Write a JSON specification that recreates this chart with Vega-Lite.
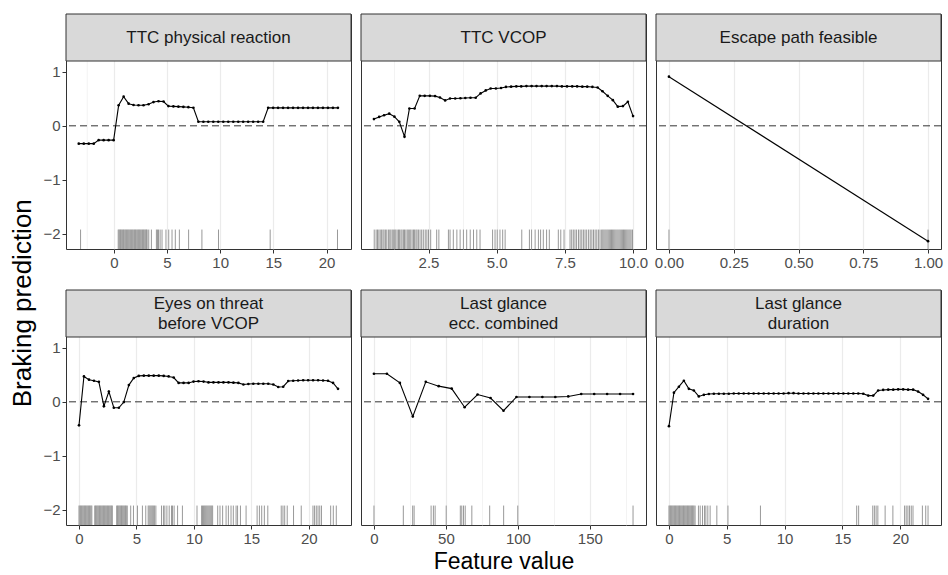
{
  "$schema": "https://vega.github.io/schema/vega-lite/v6.json",
  "background": "white",
  "padding": {"left": 10, "top": 13, "right": 4, "bottom": 0},
  "title": {"text": "Braking prediction", "orient": "left", "anchor": "middle", "fontSize": 26, "fontWeight": "normal", "font": "Liberation Sans", "color": "#000000", "offset": 6, "dx": -10},
  "datasets": {
    "strip": [
      {"p": 1, "label": "TTC physical reaction"},
      {"p": 2, "label": "TTC VCOP"},
      {"p": 3, "label": "Escape path feasible"},
      {"p": 4, "label": "Eyes on threat\nbefore VCOP"},
      {"p": 5, "label": "Last glance\necc. combined"},
      {"p": 6, "label": "Last glance\nduration"}
    ],
    "pd": [
      {"p":1,"x":-3.30,"y":-0.33},{"p":1,"x":-2.83,"y":-0.33},{"p":1,"x":-2.36,"y":-0.33},{"p":1,"x":-1.89,"y":-0.33},
      {"p":1,"x":-1.43,"y":-0.265},{"p":1,"x":-0.96,"y":-0.265},{"p":1,"x":-0.49,"y":-0.265},{"p":1,"x":-0.02,"y":-0.265},
      {"p":1,"x":0.45,"y":0.38},{"p":1,"x":0.92,"y":0.54},{"p":1,"x":1.39,"y":0.41},{"p":1,"x":1.85,"y":0.385},
      {"p":1,"x":2.32,"y":0.38},{"p":1,"x":2.79,"y":0.38},{"p":1,"x":3.26,"y":0.40},{"p":1,"x":3.73,"y":0.44},
      {"p":1,"x":4.20,"y":0.455},{"p":1,"x":4.67,"y":0.45},{"p":1,"x":5.13,"y":0.365},{"p":1,"x":5.60,"y":0.36},
      {"p":1,"x":6.07,"y":0.355},{"p":1,"x":6.54,"y":0.35},{"p":1,"x":7.01,"y":0.345},{"p":1,"x":7.48,"y":0.335},
      {"p":1,"x":7.95,"y":0.075},{"p":1,"x":8.42,"y":0.075},{"p":1,"x":8.88,"y":0.075},{"p":1,"x":9.35,"y":0.075},
      {"p":1,"x":9.82,"y":0.075},{"p":1,"x":10.29,"y":0.075},{"p":1,"x":10.76,"y":0.075},{"p":1,"x":11.23,"y":0.075},
      {"p":1,"x":11.70,"y":0.075},{"p":1,"x":12.16,"y":0.075},{"p":1,"x":12.63,"y":0.075},{"p":1,"x":13.10,"y":0.075},
      {"p":1,"x":13.57,"y":0.075},{"p":1,"x":14.04,"y":0.075},{"p":1,"x":14.51,"y":0.333},{"p":1,"x":14.98,"y":0.333},
      {"p":1,"x":15.44,"y":0.333},{"p":1,"x":15.91,"y":0.333},{"p":1,"x":16.38,"y":0.333},{"p":1,"x":16.85,"y":0.333},
      {"p":1,"x":17.32,"y":0.333},{"p":1,"x":17.79,"y":0.333},{"p":1,"x":18.26,"y":0.333},{"p":1,"x":18.72,"y":0.333},
      {"p":1,"x":19.19,"y":0.333},{"p":1,"x":19.66,"y":0.333},{"p":1,"x":20.13,"y":0.333},{"p":1,"x":20.60,"y":0.333},
      {"p":1,"x":21.07,"y":0.333},
      {"p":2,"x":0.50,"y":0.125},{"p":2,"x":0.69,"y":0.165},{"p":2,"x":0.87,"y":0.195},{"p":2,"x":1.06,"y":0.225},
      {"p":2,"x":1.25,"y":0.17},{"p":2,"x":1.43,"y":0.075},{"p":2,"x":1.62,"y":-0.2},{"p":2,"x":1.80,"y":0.32},
      {"p":2,"x":1.99,"y":0.32},{"p":2,"x":2.18,"y":0.555},{"p":2,"x":2.36,"y":0.555},{"p":2,"x":2.55,"y":0.555},
      {"p":2,"x":2.74,"y":0.55},{"p":2,"x":2.92,"y":0.525},{"p":2,"x":3.11,"y":0.47},{"p":2,"x":3.29,"y":0.505},
      {"p":2,"x":3.48,"y":0.505},{"p":2,"x":3.67,"y":0.51},{"p":2,"x":3.85,"y":0.515},{"p":2,"x":4.04,"y":0.52},
      {"p":2,"x":4.23,"y":0.52},{"p":2,"x":4.41,"y":0.6},{"p":2,"x":4.60,"y":0.655},{"p":2,"x":4.78,"y":0.69},
      {"p":2,"x":4.97,"y":0.69},{"p":2,"x":5.16,"y":0.70},{"p":2,"x":5.34,"y":0.72},{"p":2,"x":5.53,"y":0.725},
      {"p":2,"x":5.72,"y":0.73},{"p":2,"x":5.90,"y":0.73},{"p":2,"x":6.09,"y":0.735},{"p":2,"x":6.28,"y":0.735},
      {"p":2,"x":6.46,"y":0.735},{"p":2,"x":6.65,"y":0.735},{"p":2,"x":6.83,"y":0.735},{"p":2,"x":7.02,"y":0.735},
      {"p":2,"x":7.21,"y":0.735},{"p":2,"x":7.39,"y":0.73},{"p":2,"x":7.58,"y":0.73},{"p":2,"x":7.77,"y":0.73},
      {"p":2,"x":7.95,"y":0.73},{"p":2,"x":8.14,"y":0.725},{"p":2,"x":8.32,"y":0.725},{"p":2,"x":8.51,"y":0.72},
      {"p":2,"x":8.70,"y":0.71},{"p":2,"x":8.88,"y":0.64},{"p":2,"x":9.07,"y":0.555},{"p":2,"x":9.26,"y":0.475},
      {"p":2,"x":9.44,"y":0.355},{"p":2,"x":9.63,"y":0.365},{"p":2,"x":9.81,"y":0.445},{"p":2,"x":10.00,"y":0.18},
      {"p":3,"x":0,"y":0.91},{"p":3,"x":1,"y":-2.135},
      {"p":4,"x":0,"y":-0.435},{"p":4,"x":0.43,"y":0.47},{"p":4,"x":0.87,"y":0.41},{"p":4,"x":1.30,"y":0.39},
      {"p":4,"x":1.73,"y":0.37},{"p":4,"x":2.17,"y":-0.08},{"p":4,"x":2.60,"y":0.19},{"p":4,"x":3.03,"y":-0.11},
      {"p":4,"x":3.47,"y":-0.11},{"p":4,"x":3.90,"y":-0.005},{"p":4,"x":4.34,"y":0.31},{"p":4,"x":4.77,"y":0.44},
      {"p":4,"x":5.20,"y":0.48},{"p":4,"x":5.64,"y":0.485},{"p":4,"x":6.07,"y":0.485},{"p":4,"x":6.50,"y":0.485},
      {"p":4,"x":6.94,"y":0.485},{"p":4,"x":7.37,"y":0.48},{"p":4,"x":7.80,"y":0.47},{"p":4,"x":8.24,"y":0.45},
      {"p":4,"x":8.67,"y":0.35},{"p":4,"x":9.10,"y":0.35},{"p":4,"x":9.54,"y":0.35},{"p":4,"x":9.97,"y":0.375},
      {"p":4,"x":10.40,"y":0.38},{"p":4,"x":10.84,"y":0.375},{"p":4,"x":11.27,"y":0.36},{"p":4,"x":11.70,"y":0.36},
      {"p":4,"x":12.14,"y":0.36},{"p":4,"x":12.57,"y":0.36},{"p":4,"x":13.01,"y":0.36},{"p":4,"x":13.44,"y":0.355},
      {"p":4,"x":13.87,"y":0.35},{"p":4,"x":14.31,"y":0.32},{"p":4,"x":14.74,"y":0.33},{"p":4,"x":15.17,"y":0.335},
      {"p":4,"x":15.61,"y":0.335},{"p":4,"x":16.04,"y":0.335},{"p":4,"x":16.47,"y":0.335},{"p":4,"x":16.91,"y":0.32},
      {"p":4,"x":17.34,"y":0.275},{"p":4,"x":17.77,"y":0.28},{"p":4,"x":18.21,"y":0.385},{"p":4,"x":18.64,"y":0.39},
      {"p":4,"x":19.07,"y":0.395},{"p":4,"x":19.51,"y":0.40},{"p":4,"x":19.94,"y":0.40},{"p":4,"x":20.37,"y":0.40},
      {"p":4,"x":20.81,"y":0.40},{"p":4,"x":21.24,"y":0.395},{"p":4,"x":21.67,"y":0.39},{"p":4,"x":22.11,"y":0.35},
      {"p":4,"x":22.54,"y":0.24},
      {"p":5,"x":0,"y":0.52},{"p":5,"x":9,"y":0.52},{"p":5,"x":18,"y":0.35},{"p":5,"x":27,"y":-0.27},
      {"p":5,"x":36,"y":0.37},{"p":5,"x":45,"y":0.29},{"p":5,"x":54,"y":0.245},{"p":5,"x":63,"y":-0.10},
      {"p":5,"x":72,"y":0.135},{"p":5,"x":81,"y":0.07},{"p":5,"x":90,"y":-0.165},{"p":5,"x":99,"y":0.09},
      {"p":5,"x":108,"y":0.09},{"p":5,"x":117,"y":0.09},{"p":5,"x":126,"y":0.09},{"p":5,"x":135,"y":0.10},
      {"p":5,"x":144,"y":0.145},{"p":5,"x":153,"y":0.145},{"p":5,"x":162,"y":0.145},{"p":5,"x":171,"y":0.145},
      {"p":5,"x":180,"y":0.145},
      {"p":6,"x":0,"y":-0.45},{"p":6,"x":0.43,"y":0.17},{"p":6,"x":0.86,"y":0.28},{"p":6,"x":1.29,"y":0.39},
      {"p":6,"x":1.72,"y":0.24},{"p":6,"x":2.15,"y":0.21},{"p":6,"x":2.58,"y":0.10},{"p":6,"x":3.02,"y":0.13},
      {"p":6,"x":3.45,"y":0.145},{"p":6,"x":3.88,"y":0.15},{"p":6,"x":4.31,"y":0.15},{"p":6,"x":4.74,"y":0.15},
      {"p":6,"x":5.17,"y":0.15},{"p":6,"x":5.60,"y":0.155},{"p":6,"x":6.03,"y":0.155},{"p":6,"x":6.46,"y":0.155},
      {"p":6,"x":6.89,"y":0.155},{"p":6,"x":7.32,"y":0.155},{"p":6,"x":7.75,"y":0.155},{"p":6,"x":8.19,"y":0.155},
      {"p":6,"x":8.62,"y":0.155},{"p":6,"x":9.05,"y":0.155},{"p":6,"x":9.48,"y":0.155},{"p":6,"x":9.91,"y":0.155},
      {"p":6,"x":10.34,"y":0.16},{"p":6,"x":10.77,"y":0.16},{"p":6,"x":11.20,"y":0.155},{"p":6,"x":11.63,"y":0.155},
      {"p":6,"x":12.06,"y":0.155},{"p":6,"x":12.49,"y":0.155},{"p":6,"x":12.92,"y":0.155},{"p":6,"x":13.35,"y":0.155},
      {"p":6,"x":13.79,"y":0.155},{"p":6,"x":14.22,"y":0.155},{"p":6,"x":14.65,"y":0.155},{"p":6,"x":15.08,"y":0.155},
      {"p":6,"x":15.51,"y":0.155},{"p":6,"x":15.94,"y":0.155},{"p":6,"x":16.37,"y":0.155},{"p":6,"x":16.80,"y":0.15},
      {"p":6,"x":17.23,"y":0.115},{"p":6,"x":17.66,"y":0.115},{"p":6,"x":18.09,"y":0.21},{"p":6,"x":18.52,"y":0.22},
      {"p":6,"x":18.96,"y":0.225},{"p":6,"x":19.39,"y":0.225},{"p":6,"x":19.82,"y":0.23},{"p":6,"x":20.25,"y":0.23},
      {"p":6,"x":20.68,"y":0.225},{"p":6,"x":21.11,"y":0.225},{"p":6,"x":21.54,"y":0.19},{"p":6,"x":21.97,"y":0.13},
      {"p":6,"x":22.40,"y":0.055}
    ],
    "rug": [
      {"p":1,"x":-3.13},{"p":1,"x":0.41},{"p":1,"x":0.48},{"p":1,"x":0.55},{"p":1,"x":0.62},{"p":1,"x":0.68},{"p":1,"x":0.75},
      {"p":1,"x":0.83},{"p":1,"x":0.9},{"p":1,"x":0.97},{"p":1,"x":1.05},{"p":1,"x":1.12},{"p":1,"x":1.2},{"p":1,"x":1.27},
      {"p":1,"x":1.35},{"p":1,"x":1.42},{"p":1,"x":1.5},{"p":1,"x":1.58},{"p":1,"x":1.65},{"p":1,"x":1.73},{"p":1,"x":1.8},
      {"p":1,"x":1.88},{"p":1,"x":1.95},{"p":1,"x":2.03},{"p":1,"x":2.1},{"p":1,"x":2.18},{"p":1,"x":2.25},{"p":1,"x":2.33},
      {"p":1,"x":2.4},{"p":1,"x":2.48},{"p":1,"x":2.55},{"p":1,"x":2.63},{"p":1,"x":2.7},{"p":1,"x":2.78},{"p":1,"x":2.85},
      {"p":1,"x":2.93},{"p":1,"x":3.0},{"p":1,"x":3.07},{"p":1,"x":3.13},{"p":1,"x":3.28},{"p":1,"x":3.53},{"p":1,"x":4.0},
      {"p":1,"x":4.1},{"p":1,"x":4.2},{"p":1,"x":4.35},{"p":1,"x":4.53},{"p":1,"x":4.9},{"p":1,"x":5.16},{"p":1,"x":5.47},
      {"p":1,"x":5.78},{"p":1,"x":6.16},{"p":1,"x":7.03},{"p":1,"x":8.28},{"p":1,"x":9.84},{"p":1,"x":14.7},{"p":1,"x":21.03},
      {"p":2,"x":0.51},{"p":2,"x":0.58},{"p":2,"x":0.63},{"p":2,"x":0.68},{"p":2,"x":0.73},{"p":2,"x":0.78},{"p":2,"x":0.83},
      {"p":2,"x":0.87},{"p":2,"x":0.92},{"p":2,"x":0.97},{"p":2,"x":1.03},{"p":2,"x":1.08},{"p":2,"x":1.12},{"p":2,"x":1.17},
      {"p":2,"x":1.21},{"p":2,"x":1.26},{"p":2,"x":1.3},{"p":2,"x":1.35},{"p":2,"x":1.4},{"p":2,"x":1.44},{"p":2,"x":1.49},
      {"p":2,"x":1.53},{"p":2,"x":1.58},{"p":2,"x":1.62},{"p":2,"x":1.67},{"p":2,"x":1.72},{"p":2,"x":1.76},{"p":2,"x":1.81},
      {"p":2,"x":1.85},{"p":2,"x":1.9},{"p":2,"x":1.95},{"p":2,"x":1.99},{"p":2,"x":2.04},{"p":2,"x":2.08},{"p":2,"x":2.13},
      {"p":2,"x":2.19},{"p":2,"x":2.25},{"p":2,"x":2.31},{"p":2,"x":2.38},{"p":2,"x":2.44},{"p":2,"x":2.5},{"p":2,"x":2.58},
      {"p":2,"x":2.8},{"p":2,"x":2.88},{"p":2,"x":3.23},{"p":2,"x":3.29},{"p":2,"x":3.41},{"p":2,"x":3.54},{"p":2,"x":3.66},
      {"p":2,"x":3.78},{"p":2,"x":3.9},{"p":2,"x":4.03},{"p":2,"x":4.15},{"p":2,"x":4.27},{"p":2,"x":4.39},{"p":2,"x":4.85},
      {"p":2,"x":4.94},{"p":2,"x":5.02},{"p":2,"x":5.12},{"p":2,"x":5.22},{"p":2,"x":5.31},{"p":2,"x":5.92},{"p":2,"x":6.2},
      {"p":2,"x":6.28},{"p":2,"x":6.41},{"p":2,"x":6.53},{"p":2,"x":6.61},{"p":2,"x":6.71},{"p":2,"x":6.83},{"p":2,"x":6.93},
      {"p":2,"x":7.26},{"p":2,"x":7.35},{"p":2,"x":7.47},{"p":2,"x":7.69},{"p":2,"x":7.75},{"p":2,"x":7.81},{"p":2,"x":7.87},
      {"p":2,"x":7.93},{"p":2,"x":8.0},{"p":2,"x":8.06},{"p":2,"x":8.12},{"p":2,"x":8.18},{"p":2,"x":8.24},{"p":2,"x":8.3},
      {"p":2,"x":8.37},{"p":2,"x":8.43},{"p":2,"x":8.49},{"p":2,"x":8.55},{"p":2,"x":8.61},{"p":2,"x":8.67},{"p":2,"x":8.73},
      {"p":2,"x":8.79},{"p":2,"x":8.85},{"p":2,"x":8.89},{"p":2,"x":8.93},{"p":2,"x":8.97},{"p":2,"x":9.01},{"p":2,"x":9.05},
      {"p":2,"x":9.09},{"p":2,"x":9.13},{"p":2,"x":9.17},{"p":2,"x":9.21},{"p":2,"x":9.25},{"p":2,"x":9.29},{"p":2,"x":9.33},
      {"p":2,"x":9.37},{"p":2,"x":9.41},{"p":2,"x":9.45},{"p":2,"x":9.49},{"p":2,"x":9.53},{"p":2,"x":9.57},{"p":2,"x":9.61},
      {"p":2,"x":9.65},{"p":2,"x":9.69},{"p":2,"x":9.73},{"p":2,"x":9.77},{"p":2,"x":9.81},{"p":2,"x":9.85},{"p":2,"x":9.89},
      {"p":2,"x":9.93},{"p":2,"x":9.98},
      {"p":3,"x":0},{"p":3,"x":1},
      {"p":4,"x":0},{"p":4,"x":0.07},{"p":4,"x":0.14},{"p":4,"x":0.21},{"p":4,"x":0.28},{"p":4,"x":0.35},{"p":4,"x":0.42},
      {"p":4,"x":0.49},{"p":4,"x":0.56},{"p":4,"x":0.63},{"p":4,"x":0.7},{"p":4,"x":0.77},{"p":4,"x":0.84},{"p":4,"x":0.91},
      {"p":4,"x":0.98},{"p":4,"x":1.05},{"p":4,"x":1.12},{"p":4,"x":1.37},{"p":4,"x":1.44},{"p":4,"x":1.51},{"p":4,"x":1.58},
      {"p":4,"x":1.65},{"p":4,"x":1.72},{"p":4,"x":1.79},{"p":4,"x":1.86},{"p":4,"x":1.93},{"p":4,"x":2.0},{"p":4,"x":2.07},
      {"p":4,"x":2.14},{"p":4,"x":2.21},{"p":4,"x":2.28},{"p":4,"x":2.35},{"p":4,"x":2.42},{"p":4,"x":2.49},{"p":4,"x":2.56},
      {"p":4,"x":2.63},{"p":4,"x":2.7},{"p":4,"x":2.77},{"p":4,"x":2.84},{"p":4,"x":2.9},{"p":4,"x":3.28},{"p":4,"x":3.35},
      {"p":4,"x":3.42},{"p":4,"x":3.49},{"p":4,"x":3.56},{"p":4,"x":3.63},{"p":4,"x":3.7},{"p":4,"x":3.77},{"p":4,"x":3.84},
      {"p":4,"x":3.91},{"p":4,"x":3.98},{"p":4,"x":4.05},{"p":4,"x":4.12},{"p":4,"x":4.2},{"p":4,"x":4.5},{"p":4,"x":4.74},
      {"p":4,"x":5.09},{"p":4,"x":5.52},{"p":4,"x":5.81},{"p":4,"x":6.02},{"p":4,"x":6.1},{"p":4,"x":6.18},{"p":4,"x":6.26},
      {"p":4,"x":6.34},{"p":4,"x":6.42},{"p":4,"x":6.5},{"p":4,"x":6.58},{"p":4,"x":6.69},{"p":4,"x":7.18},{"p":4,"x":7.35},
      {"p":4,"x":7.47},{"p":4,"x":7.65},{"p":4,"x":7.85},{"p":4,"x":8.05},{"p":4,"x":8.14},{"p":4,"x":8.28},{"p":4,"x":8.58},
      {"p":4,"x":9.0},{"p":4,"x":10.27},{"p":4,"x":10.67},{"p":4,"x":10.75},{"p":4,"x":10.83},{"p":4,"x":10.91},{"p":4,"x":10.99},
      {"p":4,"x":11.07},{"p":4,"x":11.15},{"p":4,"x":11.23},{"p":4,"x":11.31},{"p":4,"x":11.39},{"p":4,"x":11.47},{"p":4,"x":11.55},
      {"p":4,"x":11.63},{"p":4,"x":12.07},{"p":4,"x":12.27},{"p":4,"x":12.5},{"p":4,"x":12.8},{"p":4,"x":13.0},{"p":4,"x":13.23},
      {"p":4,"x":13.43},{"p":4,"x":13.67},{"p":4,"x":13.8},{"p":4,"x":14.05},{"p":4,"x":14.54},{"p":4,"x":15.5},{"p":4,"x":15.7},
      {"p":4,"x":15.9},{"p":4,"x":16.13},{"p":4,"x":16.43},{"p":4,"x":17.6},{"p":4,"x":17.75},{"p":4,"x":17.9},{"p":4,"x":18.12},
      {"p":4,"x":18.67},{"p":4,"x":19.34},{"p":4,"x":20.36},{"p":4,"x":20.5},{"p":4,"x":20.65},{"p":4,"x":20.8},{"p":4,"x":20.95},
      {"p":4,"x":21.1},{"p":4,"x":21.9},{"p":4,"x":22.13},{"p":4,"x":22.39},
      {"p":5,"x":0},{"p":5,"x":20.4},{"p":5,"x":26.9},{"p":5,"x":27.9},{"p":5,"x":39.7},{"p":5,"x":41.3},{"p":5,"x":42.5},
      {"p":5,"x":50.2},{"p":5,"x":60},{"p":5,"x":61},{"p":5,"x":62.2},{"p":5,"x":63.4},{"p":5,"x":68},{"p":5,"x":80.4},
      {"p":5,"x":90.1},{"p":5,"x":99.9},{"p":5,"x":180},
      {"p":6,"x":0},{"p":6,"x":0.07},{"p":6,"x":0.14},{"p":6,"x":0.21},{"p":6,"x":0.28},{"p":6,"x":0.35},{"p":6,"x":0.42},
      {"p":6,"x":0.49},{"p":6,"x":0.56},{"p":6,"x":0.63},{"p":6,"x":0.7},{"p":6,"x":0.77},{"p":6,"x":0.84},{"p":6,"x":0.91},
      {"p":6,"x":0.98},{"p":6,"x":1.05},{"p":6,"x":1.12},{"p":6,"x":1.19},{"p":6,"x":1.26},{"p":6,"x":1.33},{"p":6,"x":1.4},
      {"p":6,"x":1.47},{"p":6,"x":1.54},{"p":6,"x":1.61},{"p":6,"x":1.68},{"p":6,"x":1.75},{"p":6,"x":1.82},{"p":6,"x":1.89},
      {"p":6,"x":1.96},{"p":6,"x":2.03},{"p":6,"x":2.1},{"p":6,"x":2.17},{"p":6,"x":2.26},{"p":6,"x":2.55},{"p":6,"x":2.7},
      {"p":6,"x":2.9},{"p":6,"x":3.07},{"p":6,"x":3.19},{"p":6,"x":3.36},{"p":6,"x":3.56},{"p":6,"x":4.14},{"p":6,"x":5.1},
      {"p":6,"x":7.91},{"p":6,"x":16.23},{"p":6,"x":16.4},{"p":6,"x":17.62},{"p":6,"x":17.76},{"p":6,"x":17.91},{"p":6,"x":18.06},
      {"p":6,"x":18.69},{"p":6,"x":19.36},{"p":6,"x":20.37},{"p":6,"x":20.51},{"p":6,"x":20.66},{"p":6,"x":20.8},{"p":6,"x":20.95},
      {"p":6,"x":21.1},{"p":6,"x":21.91},{"p":6,"x":22.2},{"p":6,"x":22.4}
    ]
  },
  "columns": 3,
  "spacing": {"row": 41, "column": 10},
  "bounds": "flush",
  "resolve": {"scale": {"x": "independent", "y": "independent"}},
  "concat": [
    {
      "width": 285, "height": 235,
      "layer": [
        {"data": {"name": "rug"}, "transform": [{"filter": "datum.p == 1"}],
         "mark": {"type": "rule", "color": "#999999", "strokeWidth": 1},
         "encoding": {
           "x": {"field": "x", "type": "quantitative", "title": null, "scale": {"domain": [-4.5, 22.3], "nice": false, "zero": false},
                 "axis": {"values": [0,2.5,5,7.5,10,12.5,15,17.5,20], "labelExpr": "datum.value % 5 == 0 ? datum.label : ''",
                          "tickOpacity": {"condition": {"test": "datum.value % 5 != 0", "value": 0}, "value": 1},
                          "gridWidth": {"condition": {"test": "datum.value % 5 != 0", "value": 0.6}, "value": 1.2}}},
           "y": {"datum": -2.28, "type": "quantitative", "title": null, "scale": {"domain": [-2.28, 2.07], "nice": false, "zero": false},
                 "axis": {"values": [-2,-1.5,-1,-0.5,0,0.5,1], "labelExpr": "datum.value % 1 == 0 ? datum.label : ''",
                          "tickOpacity": {"condition": {"test": "datum.value % 1 != 0", "value": 0}, "value": 1},
                          "gridWidth": {"condition": {"test": "datum.value % 1 != 0", "value": 0.6}, "value": 1.2}}},
           "y2": {"datum": -1.92}
         }},
        {"data": {"name": "strip"}, "transform": [{"filter": "datum.p == 1"}],
         "mark": {"type": "rule", "color": "#EBEBEB", "strokeWidth": 0.6},
         "encoding": {"x": {"datum": -2.5, "type": "quantitative"}}},
        {"data": {"name": "strip"}, "transform": [{"filter": "datum.p == 1"}],
         "mark": {"type": "rule", "strokeDash": [7, 4], "color": "#333333", "strokeWidth": 1},
         "encoding": {"y": {"datum": 0, "type": "quantitative"}}},
        {"data": {"name": "pd"}, "transform": [{"filter": "datum.p == 1"}],
         "mark": {"type": "line", "color": "#000000", "strokeWidth": 1.1},
         "encoding": {"x": {"field": "x", "type": "quantitative", "title": null}, "y": {"field": "y", "type": "quantitative", "title": null}}},
        {"data": {"name": "pd"}, "transform": [{"filter": "datum.p == 1"}],
         "mark": {"type": "point", "filled": true, "size": 7, "color": "#000000", "opacity": 1},
         "encoding": {"x": {"field": "x", "type": "quantitative", "title": null}, "y": {"field": "y", "type": "quantitative", "title": null}}},
        {"data": {"name": "strip"}, "transform": [{"filter": "datum.p == 1"}],
         "mark": {"type": "rect", "fill": "#D9D9D9", "stroke": "#333333", "strokeWidth": 1},
         "encoding": {"y": {"datum": 1.2, "type": "quantitative"}, "y2": {"datum": 2.07}}},
        {"data": {"name": "strip"}, "transform": [{"filter": "datum.p == 1"}],
         "mark": {"type": "text", "lineBreak": "\n", "fontSize": 17, "font": "Liberation Sans", "color": "#1A1A1A", "baseline": "middle", "lineHeight": 20},
         "encoding": {"y": {"datum": 1.635, "type": "quantitative"}, "text": {"field": "label"}}}
      ]
    },
    {
      "width": 285, "height": 235,
      "layer": [
        {"data": {"name": "rug"}, "transform": [{"filter": "datum.p == 2"}],
         "mark": {"type": "rule", "color": "#999999", "strokeWidth": 1},
         "encoding": {
           "x": {"field": "x", "type": "quantitative", "title": null, "scale": {"domain": [0.025, 10.475], "nice": false, "zero": false},
                 "axis": {"values": [1.25,2.5,3.75,5,6.25,7.5,8.75,10], "format": ".1f", "labelExpr": "datum.value % 2.5 == 0 ? datum.label : ''",
                          "tickOpacity": {"condition": {"test": "datum.value % 2.5 != 0", "value": 0}, "value": 1},
                          "gridWidth": {"condition": {"test": "datum.value % 2.5 != 0", "value": 0.6}, "value": 1.2}}},
           "y": {"datum": -2.28, "type": "quantitative", "title": null, "scale": {"domain": [-2.28, 2.07], "nice": false, "zero": false},
                 "axis": {"values": [-2,-1.5,-1,-0.5,0,0.5,1], "labels": false, "ticks": false,
                          "gridWidth": {"condition": {"test": "datum.value % 1 != 0", "value": 0.6}, "value": 1.2}}},
           "y2": {"datum": -1.92}
         }},
        {"data": {"name": "strip"}, "transform": [{"filter": "datum.p == 2"}],
         "mark": {"type": "rule", "strokeDash": [7, 4], "color": "#333333", "strokeWidth": 1},
         "encoding": {"y": {"datum": 0, "type": "quantitative"}}},
        {"data": {"name": "pd"}, "transform": [{"filter": "datum.p == 2"}],
         "mark": {"type": "line", "color": "#000000", "strokeWidth": 1.1},
         "encoding": {"x": {"field": "x", "type": "quantitative", "title": null}, "y": {"field": "y", "type": "quantitative", "title": null}}},
        {"data": {"name": "pd"}, "transform": [{"filter": "datum.p == 2"}],
         "mark": {"type": "point", "filled": true, "size": 7, "color": "#000000", "opacity": 1},
         "encoding": {"x": {"field": "x", "type": "quantitative", "title": null}, "y": {"field": "y", "type": "quantitative", "title": null}}},
        {"data": {"name": "strip"}, "transform": [{"filter": "datum.p == 2"}],
         "mark": {"type": "rect", "fill": "#D9D9D9", "stroke": "#333333", "strokeWidth": 1},
         "encoding": {"y": {"datum": 1.2, "type": "quantitative"}, "y2": {"datum": 2.07}}},
        {"data": {"name": "strip"}, "transform": [{"filter": "datum.p == 2"}],
         "mark": {"type": "text", "lineBreak": "\n", "fontSize": 17, "font": "Liberation Sans", "color": "#1A1A1A", "baseline": "middle", "lineHeight": 20},
         "encoding": {"y": {"datum": 1.635, "type": "quantitative"}, "text": {"field": "label"}}}
      ]
    },
    {
      "width": 285, "height": 235,
      "layer": [
        {"data": {"name": "rug"}, "transform": [{"filter": "datum.p == 3"}],
         "mark": {"type": "rule", "color": "#999999", "strokeWidth": 1},
         "encoding": {
           "x": {"field": "x", "type": "quantitative", "title": null, "scale": {"domain": [-0.05, 1.05], "nice": false, "zero": false},
                 "axis": {"values": [0,0.125,0.25,0.375,0.5,0.625,0.75,0.875,1], "format": ".2f",
                          "labelExpr": "abs(datum.value * 4 - round(datum.value * 4)) < 0.001 ? datum.label : ''",
                          "tickOpacity": {"condition": {"test": "abs(datum.value * 4 - round(datum.value * 4)) > 0.001", "value": 0}, "value": 1},
                          "gridWidth": {"condition": {"test": "abs(datum.value * 4 - round(datum.value * 4)) > 0.001", "value": 0.6}, "value": 1.2}}},
           "y": {"datum": -2.28, "type": "quantitative", "title": null, "scale": {"domain": [-2.28, 2.07], "nice": false, "zero": false},
                 "axis": {"values": [-2,-1.5,-1,-0.5,0,0.5,1], "labels": false, "ticks": false,
                          "gridWidth": {"condition": {"test": "datum.value % 1 != 0", "value": 0.6}, "value": 1.2}}},
           "y2": {"datum": -1.92}
         }},
        {"data": {"name": "strip"}, "transform": [{"filter": "datum.p == 3"}],
         "mark": {"type": "rule", "strokeDash": [7, 4], "color": "#333333", "strokeWidth": 1},
         "encoding": {"y": {"datum": 0, "type": "quantitative"}}},
        {"data": {"name": "pd"}, "transform": [{"filter": "datum.p == 3"}],
         "mark": {"type": "line", "color": "#000000", "strokeWidth": 1.1},
         "encoding": {"x": {"field": "x", "type": "quantitative", "title": null}, "y": {"field": "y", "type": "quantitative", "title": null}}},
        {"data": {"name": "pd"}, "transform": [{"filter": "datum.p == 3"}],
         "mark": {"type": "point", "filled": true, "size": 7, "color": "#000000", "opacity": 1},
         "encoding": {"x": {"field": "x", "type": "quantitative", "title": null}, "y": {"field": "y", "type": "quantitative", "title": null}}},
        {"data": {"name": "strip"}, "transform": [{"filter": "datum.p == 3"}],
         "mark": {"type": "rect", "fill": "#D9D9D9", "stroke": "#333333", "strokeWidth": 1},
         "encoding": {"y": {"datum": 1.2, "type": "quantitative"}, "y2": {"datum": 2.07}}},
        {"data": {"name": "strip"}, "transform": [{"filter": "datum.p == 3"}],
         "mark": {"type": "text", "lineBreak": "\n", "fontSize": 17, "font": "Liberation Sans", "color": "#1A1A1A", "baseline": "middle", "lineHeight": 20},
         "encoding": {"y": {"datum": 1.635, "type": "quantitative"}, "text": {"field": "label"}}}
      ]
    },
    {
      "width": 285, "height": 235,
      "layer": [
        {"data": {"name": "rug"}, "transform": [{"filter": "datum.p == 4"}],
         "mark": {"type": "rule", "color": "#999999", "strokeWidth": 1},
         "encoding": {
           "x": {"field": "x", "type": "quantitative", "title": null, "scale": {"domain": [-1.13, 23.67], "nice": false, "zero": false},
                 "axis": {"values": [0,2.5,5,7.5,10,12.5,15,17.5,20,22.5], "labelExpr": "datum.value % 5 == 0 ? datum.label : ''",
                          "tickOpacity": {"condition": {"test": "datum.value % 5 != 0", "value": 0}, "value": 1},
                          "gridWidth": {"condition": {"test": "datum.value % 5 != 0", "value": 0.6}, "value": 1.2}}},
           "y": {"datum": -2.28, "type": "quantitative", "title": null, "scale": {"domain": [-2.28, 2.07], "nice": false, "zero": false},
                 "axis": {"values": [-2,-1.5,-1,-0.5,0,0.5,1], "labelExpr": "datum.value % 1 == 0 ? datum.label : ''",
                          "tickOpacity": {"condition": {"test": "datum.value % 1 != 0", "value": 0}, "value": 1},
                          "gridWidth": {"condition": {"test": "datum.value % 1 != 0", "value": 0.6}, "value": 1.2}}},
           "y2": {"datum": -1.92}
         }},
        {"data": {"name": "strip"}, "transform": [{"filter": "datum.p == 4"}],
         "mark": {"type": "rule", "strokeDash": [7, 4], "color": "#333333", "strokeWidth": 1},
         "encoding": {"y": {"datum": 0, "type": "quantitative"}}},
        {"data": {"name": "pd"}, "transform": [{"filter": "datum.p == 4"}],
         "mark": {"type": "line", "color": "#000000", "strokeWidth": 1.1},
         "encoding": {"x": {"field": "x", "type": "quantitative", "title": null}, "y": {"field": "y", "type": "quantitative", "title": null}}},
        {"data": {"name": "pd"}, "transform": [{"filter": "datum.p == 4"}],
         "mark": {"type": "point", "filled": true, "size": 7, "color": "#000000", "opacity": 1},
         "encoding": {"x": {"field": "x", "type": "quantitative", "title": null}, "y": {"field": "y", "type": "quantitative", "title": null}}},
        {"data": {"name": "strip"}, "transform": [{"filter": "datum.p == 4"}],
         "mark": {"type": "rect", "fill": "#D9D9D9", "stroke": "#333333", "strokeWidth": 1},
         "encoding": {"y": {"datum": 1.2, "type": "quantitative"}, "y2": {"datum": 2.07}}},
        {"data": {"name": "strip"}, "transform": [{"filter": "datum.p == 4"}],
         "mark": {"type": "text", "lineBreak": "\n", "fontSize": 17, "font": "Liberation Sans", "color": "#1A1A1A", "baseline": "middle", "lineHeight": 20},
         "encoding": {"y": {"datum": 1.82, "type": "quantitative"}, "text": {"field": "label"}}}
      ]
    },
    {
      "width": 285, "height": 235,
      "layer": [
        {"data": {"name": "rug"}, "transform": [{"filter": "datum.p == 5"}],
         "mark": {"type": "rule", "color": "#999999", "strokeWidth": 1},
         "encoding": {
           "x": {"field": "x", "type": "quantitative", "title": "Feature value", "scale": {"domain": [-9, 189], "nice": false, "zero": false},
                 "axis": {"values": [0,25,50,75,100,125,150,175], "labelExpr": "datum.value % 50 == 0 ? datum.label : ''",
                          "tickOpacity": {"condition": {"test": "datum.value % 50 != 0", "value": 0}, "value": 1},
                          "gridWidth": {"condition": {"test": "datum.value % 50 != 0", "value": 0.6}, "value": 1.2}}},
           "y": {"datum": -2.28, "type": "quantitative", "title": null, "scale": {"domain": [-2.28, 2.07], "nice": false, "zero": false},
                 "axis": {"values": [-2,-1.5,-1,-0.5,0,0.5,1], "labels": false, "ticks": false,
                          "gridWidth": {"condition": {"test": "datum.value % 1 != 0", "value": 0.6}, "value": 1.2}}},
           "y2": {"datum": -1.92}
         }},
        {"data": {"name": "strip"}, "transform": [{"filter": "datum.p == 5"}],
         "mark": {"type": "rule", "strokeDash": [7, 4], "color": "#333333", "strokeWidth": 1},
         "encoding": {"y": {"datum": 0, "type": "quantitative"}}},
        {"data": {"name": "pd"}, "transform": [{"filter": "datum.p == 5"}],
         "mark": {"type": "line", "color": "#000000", "strokeWidth": 1.1},
         "encoding": {"x": {"field": "x", "type": "quantitative", "title": "Feature value"}, "y": {"field": "y", "type": "quantitative", "title": null}}},
        {"data": {"name": "pd"}, "transform": [{"filter": "datum.p == 5"}],
         "mark": {"type": "point", "filled": true, "size": 7, "color": "#000000", "opacity": 1},
         "encoding": {"x": {"field": "x", "type": "quantitative", "title": "Feature value"}, "y": {"field": "y", "type": "quantitative", "title": null}}},
        {"data": {"name": "strip"}, "transform": [{"filter": "datum.p == 5"}],
         "mark": {"type": "rect", "fill": "#D9D9D9", "stroke": "#333333", "strokeWidth": 1},
         "encoding": {"y": {"datum": 1.2, "type": "quantitative"}, "y2": {"datum": 2.07}}},
        {"data": {"name": "strip"}, "transform": [{"filter": "datum.p == 5"}],
         "mark": {"type": "text", "lineBreak": "\n", "fontSize": 17, "font": "Liberation Sans", "color": "#1A1A1A", "baseline": "middle", "lineHeight": 20},
         "encoding": {"y": {"datum": 1.82, "type": "quantitative"}, "text": {"field": "label"}}}
      ]
    },
    {
      "width": 285, "height": 235,
      "layer": [
        {"data": {"name": "rug"}, "transform": [{"filter": "datum.p == 6"}],
         "mark": {"type": "rule", "color": "#999999", "strokeWidth": 1},
         "encoding": {
           "x": {"field": "x", "type": "quantitative", "title": null, "scale": {"domain": [-1.12, 23.52], "nice": false, "zero": false},
                 "axis": {"values": [0,2.5,5,7.5,10,12.5,15,17.5,20,22.5], "labelExpr": "datum.value % 5 == 0 ? datum.label : ''",
                          "tickOpacity": {"condition": {"test": "datum.value % 5 != 0", "value": 0}, "value": 1},
                          "gridWidth": {"condition": {"test": "datum.value % 5 != 0", "value": 0.6}, "value": 1.2}}},
           "y": {"datum": -2.28, "type": "quantitative", "title": null, "scale": {"domain": [-2.28, 2.07], "nice": false, "zero": false},
                 "axis": {"values": [-2,-1.5,-1,-0.5,0,0.5,1], "labels": false, "ticks": false,
                          "gridWidth": {"condition": {"test": "datum.value % 1 != 0", "value": 0.6}, "value": 1.2}}},
           "y2": {"datum": -1.92}
         }},
        {"data": {"name": "strip"}, "transform": [{"filter": "datum.p == 6"}],
         "mark": {"type": "rule", "strokeDash": [7, 4], "color": "#333333", "strokeWidth": 1},
         "encoding": {"y": {"datum": 0, "type": "quantitative"}}},
        {"data": {"name": "pd"}, "transform": [{"filter": "datum.p == 6"}],
         "mark": {"type": "line", "color": "#000000", "strokeWidth": 1.1},
         "encoding": {"x": {"field": "x", "type": "quantitative", "title": null}, "y": {"field": "y", "type": "quantitative", "title": null}}},
        {"data": {"name": "pd"}, "transform": [{"filter": "datum.p == 6"}],
         "mark": {"type": "point", "filled": true, "size": 7, "color": "#000000", "opacity": 1},
         "encoding": {"x": {"field": "x", "type": "quantitative", "title": null}, "y": {"field": "y", "type": "quantitative", "title": null}}},
        {"data": {"name": "strip"}, "transform": [{"filter": "datum.p == 6"}],
         "mark": {"type": "rect", "fill": "#D9D9D9", "stroke": "#333333", "strokeWidth": 1},
         "encoding": {"y": {"datum": 1.2, "type": "quantitative"}, "y2": {"datum": 2.07}}},
        {"data": {"name": "strip"}, "transform": [{"filter": "datum.p == 6"}],
         "mark": {"type": "text", "lineBreak": "\n", "fontSize": 17, "font": "Liberation Sans", "color": "#1A1A1A", "baseline": "middle", "lineHeight": 20},
         "encoding": {"y": {"datum": 1.82, "type": "quantitative"}, "text": {"field": "label"}}}
      ]
    }
  ],
  "config": {
    "font": "Liberation Sans",
    "view": {"stroke": "#333333", "strokeWidth": 1},
    "axis": {
      "domain": false,
      "labelFont": "Liberation Sans", "labelFontSize": 15, "labelColor": "#4D4D4D",
      "labelFlush": false, "labelOverlap": false, "labelBound": false, "labelPadding": 2,
      "tickColor": "#333333", "tickSize": 4, "tickWidth": 1,
      "gridColor": "#EBEBEB",
      "titleFont": "Liberation Sans", "titleFontSize": 23, "titleFontWeight": "normal", "titleColor": "#000000", "titlePadding": 4
    }
  }
}
